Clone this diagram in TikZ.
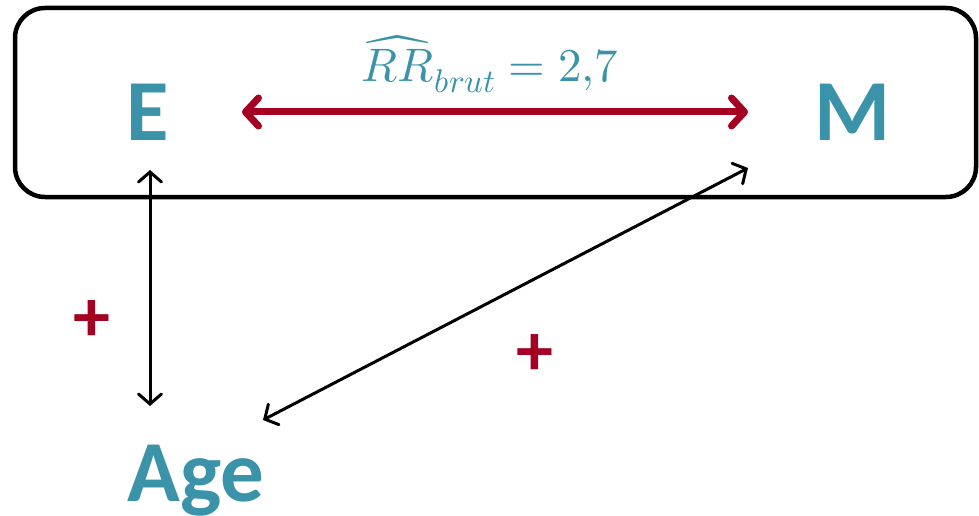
\documentclass[tikz,border=0pt]{standalone}
\usepackage{fontspec}
\usepackage{unicode-math}
\setmainfont{Carlito}
\setmathfont{Latin Modern Math}
\usetikzlibrary{calc,arrows.meta}

\definecolor{teal1}{HTML}{3A93A8}
\definecolor{red1}{HTML}{A50021}

\tikzset{
    lettre/.style={font=\bfseries\fontsize{87}{90}\selectfont, text=teal1, inner sep=0pt},
    signe/.style={font=\bfseries\fontsize{74}{76}\selectfont, text=red1, inner sep=0pt},
    lien/.style={line width=3pt, black, {Straight Barb[length=10pt,width=23pt,line cap=round]}-{Straight Barb[length=10pt,width=23pt,line cap=round]}},
    lienfort/.style={line width=7pt, red1, line cap=round, {Straight Barb[length=13pt,width=28pt,line cap=round,line join=round]}-{Straight Barb[length=13pt,width=28pt,line cap=round,line join=round]}}
}

\begin{document}
\begin{tikzpicture}[x=1pt, y=-1pt, line join=round]
    \useasboundingbox (0,0) rectangle (979,516);

    % cadre autour de E et M
    \draw[line width=4.5pt, rounded corners=30pt] (15,8) rectangle (976,197);

    % les variables
    \node[lettre] (E) at (148,112) {E};
    \node[lettre] (M) at (853,112) {M};
    \node[lettre] (Age) at (196,481) {Age};

    % association brute
    \draw[lienfort] ($(E)+(94,0)$) -- ($(M)+(-105,0)$);
    \node[text=teal1, font=\fontsize{47}{50}\selectfont, inner sep=0pt] (rr) at (490,64)
        {$\widehat{RR}_{brut}=2{,}7$};

    % liens avec le facteur de confusion
    \draw[lien] ($(E)+(2,58)$) -- ($(Age)+(-46,-75)$);
    \draw[lien] ($(Age)+(67,-61)$) -- ($(M)+(-105,56)$);

    % signes
    \node[signe] (p1) at (92,321) {+};
    \node[signe] (p2) at (535,355) {+};
\end{tikzpicture}
\end{document}
